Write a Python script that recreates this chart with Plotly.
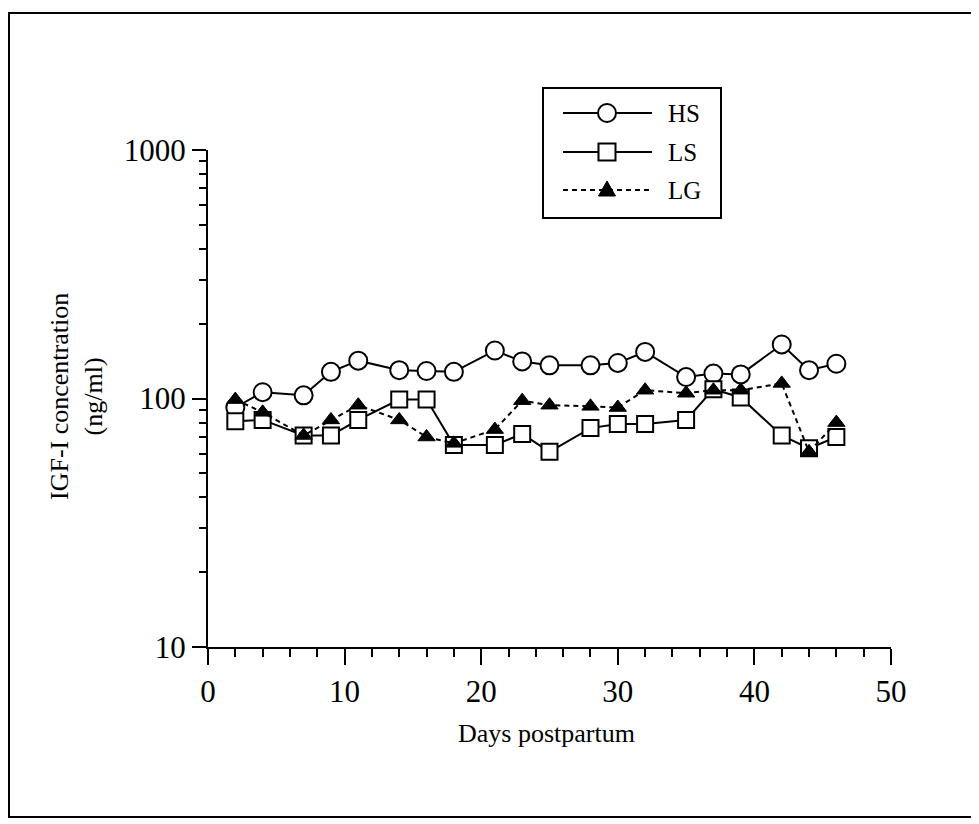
import plotly.graph_objects as go

# ---- data ----
days = [2, 4, 7, 9, 11, 14, 16, 18, 21, 23, 25, 28, 30, 32, 35, 37, 39, 42, 44, 46]
hs = [92, 106, 103, 128, 142, 130, 129, 128, 156, 141, 136, 136, 139, 154, 122, 126, 125, 165, 130, 138]
ls = [81, 82, 71, 71, 82, 99, 99, 65, 65, 72, 61, 76, 79, 79, 82, 109, 101, 71, 63, 70]
lg = [99, 88, 71, 82, 94, 82, 70, 66, 75, 98, 94, 93, 92, 108, 105, 108, 108, 115, 61, 80]

series_names = ["HS", "LS", "LG"]
x_ticks = [0, 10, 20, 30, 40, 50]
y_ticks = [10, 100, 1000]
y_ticktext = ["10", "100", "1000"]

FONT = "Liberation Serif, Times New Roman, serif"

styles = {
    "HS": dict(symbol="circle", size=18, fill="white", dash="solid"),
    "LS": dict(symbol="square", size=16, fill="white", dash="solid"),
    "LG": dict(symbol="triangle-up", size=15, fill="black", dash="5px,4px"),
}

fig = go.Figure()
for name, vals in zip(series_names, [hs, ls, lg]):
    st = styles[name]
    fig.add_trace(go.Scatter(
        x=days, y=vals, name=name, mode="lines+markers", showlegend=False,
        line=dict(color="black", width=2, dash=st["dash"]),
        marker=dict(symbol=st["symbol"], size=st["size"], color=st["fill"],
                    line=dict(color="black", width=2 if st["fill"] == "white" else 1)),
    ))

# page offset of the plot div (body margin)
OFF = 8
W, H = 971, 816
L, T = 200, 142
R = W - (891 - OFF)
B = H - (647 - OFF)
pw, ph = W - L - R, H - T - B


def px(xp):
    return (xp - OFF - L) / pw


def py(yp):
    return (H - B - (yp - OFF)) / ph


shapes = [
    dict(type="rect", xref="paper", yref="paper",
         x0=px(9), x1=px(976), y0=py(817), y1=py(13),
         line=dict(color="black", width=2), fillcolor="rgba(0,0,0,0)", layer="below"),
    # legend box
    dict(type="rect", xref="paper", yref="paper",
         x0=px(543), x1=px(721), y0=py(218), y1=py(88),
         line=dict(color="black", width=2), fillcolor="white", layer="above"),
]
annotations = [
    dict(text="Days postpartum", xref="paper", yref="paper",
         x=px(546), y=py(733), xanchor="center", yanchor="middle",
         showarrow=False, font=dict(family=FONT, size=26, color="black")),
    dict(text="IGF-I concentration<br>(ng/ml)", xref="paper", yref="paper",
         x=px(76), y=py(397), xanchor="center", yanchor="middle", textangle=-90,
         showarrow=False, font=dict(family=FONT, size=26, color="black")),
]

# legend entries
row_y = [113, 152, 190]
for name, ry in zip(series_names, row_y):
    st = styles[name]
    yy = py(ry)
    shapes.append(dict(type="line", xref="paper", yref="paper",
                       x0=px(563), x1=px(652), y0=yy, y1=yy,
                       line=dict(color="black", width=2, dash=st["dash"])))
    xc = px(607)
    if st["symbol"] == "circle":
        r = st["size"] / 2
        shapes.append(dict(type="circle", xref="paper", yref="paper",
                           xsizemode="pixel", ysizemode="pixel", xanchor=xc, yanchor=yy,
                           x0=-r, x1=r, y0=-r, y1=r,
                           line=dict(color="black", width=2), fillcolor="white"))
    elif st["symbol"] == "square":
        r = 17 / 2
        shapes.append(dict(type="rect", xref="paper", yref="paper",
                           xsizemode="pixel", ysizemode="pixel", xanchor=xc, yanchor=yy,
                           x0=-r, x1=r, y0=-r, y1=r,
                           line=dict(color="black", width=2), fillcolor="white"))
    else:
        shapes.append(dict(type="path", xref="paper", yref="paper",
                           xsizemode="pixel", ysizemode="pixel", xanchor=xc, yanchor=yy,
                           path="M-8.5,-6 L8.5,-6 L0,9 Z",
                           line=dict(color="black", width=1), fillcolor="black"))
    annotations.append(dict(text=name, xref="paper", yref="paper",
                            x=px(666), y=yy, xanchor="left", yanchor="middle",
                            showarrow=False, font=dict(family=FONT, size=25, color="black")))

fig.update_layout(
    width=W, height=H,
    margin=dict(l=L, r=R, t=T, b=B, autoexpand=False),
    paper_bgcolor="white", plot_bgcolor="white",
    font=dict(family=FONT, color="black"),
    showlegend=False,
    xaxis=dict(
        range=[0, 50], tickvals=x_ticks, showgrid=False, zeroline=False,
        showline=True, linecolor="black", linewidth=2,
        ticks="outside", ticklen=16, tickwidth=2, tickcolor="black",
        tickfont=dict(family=FONT, size=31, color="black"),
        minor=dict(dtick=2, ticks="outside", ticklen=8, tickwidth=2, tickcolor="black", showgrid=False),
    ),
    yaxis=dict(
        type="log", range=[1, 3], tickvals=y_ticks, ticktext=y_ticktext,
        showgrid=False, zeroline=False,
        showline=True, linecolor="black", linewidth=2,
        ticks="outside", ticklen=14, tickwidth=2, tickcolor="black",
        tickfont=dict(family=FONT, size=31, color="black"),
        minor=dict(dtick="D1", ticks="outside", ticklen=7, tickwidth=2, tickcolor="black", showgrid=False),
    ),
    annotations=annotations,
    shapes=shapes,
)

fig.write_html("out.html")
